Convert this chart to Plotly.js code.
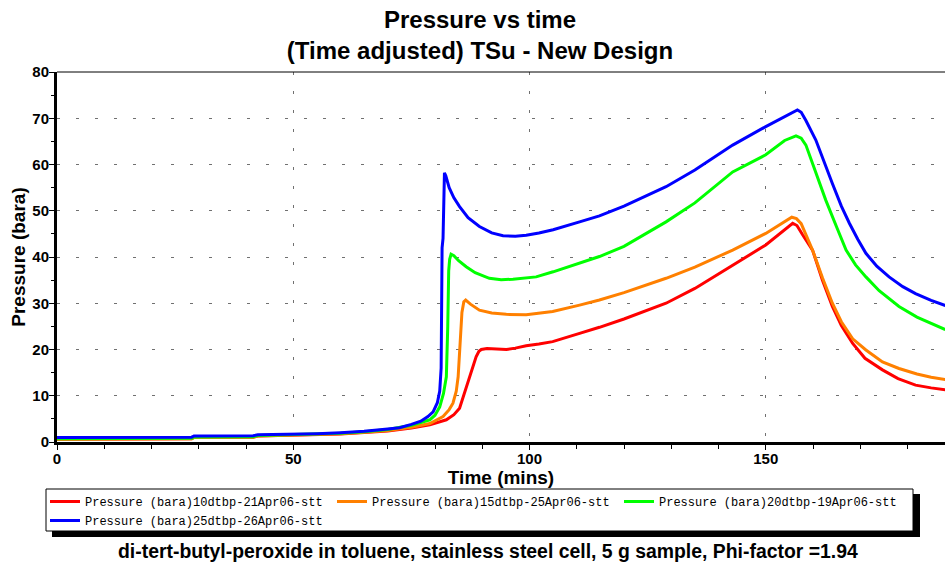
<!DOCTYPE html>
<html>
<head>
<meta charset="utf-8">
<script src="https://cdn.plot.ly/plotly-3.0.1.min.js"></script>
<style>html,body{margin:0;padding:0;background:#fff;}#chart{width:945px;height:563px;}</style>
</head>
<body>
<div id="chart"></div>
<script>
// ---- data (time in minutes, pressure in bara) ----
const seriesNames = [
  "Pressure (bara)10dtbp-21Apr06-stt",
  "Pressure (bara)15dtbp-25Apr06-stt",
  "Pressure (bara)20dtbp-19Apr06-stt",
  "Pressure (bara)25dtbp-26Apr06-stt"
];
const seriesColors = ["#ff0000", "#ff8000", "#00ff00", "#0000ff"];

const t10 = [0, 28.5, 29, 41.5, 42.5, 50, 60, 65, 70, 75, 78.9, 82.4, 84, 85.2, 86.2, 87.3, 88, 88.7, 89.3, 89.8, 91, 93, 95.1, 97, 99.3, 102, 104.9, 110.6, 114.8, 120, 128.9, 135, 143, 150, 155.7, 156.6, 157.8, 159.9, 162, 164.1, 166, 168.4, 171, 174.7, 178, 181.7, 185, 188];
const p10 = [0.6, 0.7, 1.0, 1.05, 1.3, 1.45, 1.75, 2.05, 2.4, 3.0, 3.7, 4.8, 5.9, 7.3, 10.5, 14.1, 16.5, 18.4, 19.6, 20.0, 20.2, 20.1, 20.0, 20.3, 20.8, 21.2, 21.7, 23.5, 24.8, 26.6, 30.0, 33.2, 38.3, 42.6, 47.3, 46.8, 44.8, 41.5, 35.0, 29.3, 25.2, 21.3, 18.1, 15.6, 13.7, 12.3, 11.7, 11.3];

const t15 = [0, 28.5, 29, 41.5, 42.5, 50, 60, 65, 70, 75, 78.9, 81.7, 83, 83.8, 84.5, 84.9, 85.3, 85.7, 86.1, 86.5, 87.5, 89.4, 92, 95.1, 99.3, 102, 104.9, 110.6, 114.8, 120, 128.9, 135, 143, 150, 155.5, 156.5, 157.5, 159.9, 162, 164.1, 166, 168.4, 171.2, 174.7, 178.2, 182, 185, 188];
const p15 = [0.6, 0.7, 1.0, 1.05, 1.3, 1.45, 1.8, 2.1, 2.5, 3.2, 4.0, 5.5, 7.0, 8.4, 11.0, 14.1, 22.0, 28.0, 30.3, 30.7, 29.8, 28.5, 27.9, 27.6, 27.5, 27.8, 28.2, 29.6, 30.7, 32.3, 35.4, 37.8, 41.5, 45.1, 48.6, 48.3, 47.2, 41.5, 35.5, 30.0, 26.0, 22.3, 19.9, 17.3, 15.9, 14.7, 14.0, 13.5];

const t20 = [0, 28.5, 29, 41.5, 42.5, 50, 60, 65, 70, 75, 78.9, 80, 81, 81.8, 82.4, 82.7, 82.9, 83.1, 83.4, 84, 85, 86.6, 88.5, 91.5, 94, 96.5, 99, 101.4, 105, 110.6, 114.8, 120, 128.9, 135, 143, 150, 154, 156.4, 157.5, 158.5, 160.5, 162.7, 165, 167, 169, 171.2, 174, 178.2, 182, 185, 188];
const p20 = [0.7, 0.8, 1.1, 1.15, 1.4, 1.55, 1.9, 2.2, 2.7, 3.6, 4.8, 5.8, 7.6, 10.5, 14.1, 25.0, 37.0, 39.5, 40.6, 40.3, 39.2, 37.9, 36.6, 35.4, 35.1, 35.2, 35.5, 35.7, 36.8, 38.6, 40.1, 42.3, 47.6, 51.7, 58.4, 62.1, 65.2, 66.2, 65.7, 64.2, 58.5, 52.3, 46.5, 41.5, 38.3, 35.7, 32.7, 29.3, 27.0, 25.6, 24.3];

const t25 = [0, 28.5, 29, 41.5, 42.5, 50, 55, 60, 65, 70, 72.5, 75, 77, 78.5, 79.6, 80.5, 81.0, 81.3, 81.5, 81.7, 82.0, 82.3, 83, 84, 85.2, 87, 89.4, 92, 94.4, 97, 99.3, 102, 105, 110.6, 114.8, 120, 128.9, 135, 143, 150, 155, 156.7, 157.5, 158.5, 160.6, 162.3, 164.1, 166, 167.7, 169.5, 171.2, 173.5, 176.1, 179, 181.7, 185, 188];
const p25 = [1.0, 1.05, 1.3, 1.35, 1.55, 1.65, 1.8, 2.0, 2.3, 2.8, 3.1, 3.8, 4.5, 5.5, 6.5, 8.5, 11.0, 16.0, 42.0, 44.0, 58.2, 57.5, 55.0, 52.8, 50.9, 48.5, 46.6, 45.2, 44.6, 44.5, 44.7, 45.2, 45.9, 47.6, 48.9, 51.0, 55.2, 58.8, 64.2, 68.2, 71.0, 71.8, 71.3, 69.5, 65.3, 60.5, 55.9, 51.0, 47.3, 43.8, 40.8, 38.0, 35.7, 33.6, 32.1, 30.6, 29.5];

const xTickVals = [0, 50, 100, 150];
const yTickVals = [0, 10, 20, 30, 40, 50, 60, 70, 80];

const chartTitle = "Pressure vs time<br>(Time adjusted) TSu - New Design";
const xTitle = "Time (mins)";
const yTitle = "Pressure (bara)";
const caption = "di-tert-butyl-peroxide in toluene, stainless steel cell, 5 g sample, Phi-factor =1.94";

// ---- figure ----
const W = 945, H = 563;
const M = {l: 57, r: 0, t: 72, b: 121};
const PW = W - M.l - M.r, PH = H - M.t - M.b;
const px = x => (x - M.l) / PW;          // pixel -> paper x
const py = y => (H - M.b - y) / PH;      // pixel -> paper y

const xs = [t10, t15, t20, t25];
const ys = [p10, p15, p20, p25];
const traces = xs.map((x, i) => ({
  type: "scatter", mode: "lines", x: x, y: ys[i], name: seriesNames[i],
  line: {color: seriesColors[i], width: 3}
}));

const baseFont = {family: "Liberation Sans, Arial, sans-serif", color: "#000"};
const layout = {
  width: W, height: H,
  margin: M,
  paper_bgcolor: "#fff", plot_bgcolor: "#fff",
  font: baseFont,
  title: {
    text: chartTitle,
    font: {family: baseFont.family, size: 24, weight: "bold", color: "#000"},
    x: 480 / W, xref: "container", xanchor: "center",
    y: 1 - 28 / H, yref: "container", yanchor: "top"
  },
  xaxis: {
    range: [0, PW / 4.725], tickvals: xTickVals, ticktext: xTickVals.map(String),
    ticks: "outside", ticklen: 5, tickwidth: 1, tickcolor: "#000",
    ticklabelstandoff: -4,
    minor: {dtick: 10, ticks: "outside", ticklen: 4, tickcolor: "#000", showgrid: false},
    showline: true, linewidth: 3, linecolor: "#000", mirror: false,
    showgrid: true, gridcolor: "#707070", gridwidth: 1, griddash: "3px,16px",
    zeroline: false, automargin: false,
    tickfont: {family: baseFont.family, size: 15, weight: "bold", color: "#000"},
    title: {text: xTitle, standoff: 5,
      font: {family: baseFont.family, size: 19, weight: "bold", color: "#000"}}
  },
  yaxis: {
    range: [0, 80], tickvals: yTickVals, ticktext: yTickVals.map(String),
    ticks: "outside", ticklen: 5, tickwidth: 1, tickcolor: "#000",
    ticklabelstandoff: -3,
    minor: {dtick: 5, ticks: "outside", ticklen: 3, tickcolor: "#000", showgrid: false},
    showline: true, linewidth: 3, linecolor: "#000", mirror: false,
    showgrid: true, gridcolor: "#707070", gridwidth: 1, griddash: "3px,16px",
    zeroline: false, automargin: false,
    tickfont: {family: baseFont.family, size: 15, weight: "bold", color: "#000"},
    title: {text: yTitle, standoff: 2,
      font: {family: baseFont.family, size: 19, weight: "bold", color: "#000"}}
  },
  showlegend: true,
  legend: {
    orientation: "h", x: px(45), xanchor: "left", y: py(487), yanchor: "top",
    bgcolor: "rgba(0,0,0,0)", borderwidth: 0,
    entrywidth: 242, entrywidthmode: "pixels",
    font: {family: "Liberation Mono, DejaVu Sans Mono, monospace", size: 12, color: "#000"},
    traceorder: "normal"
  },
  shapes: [
    // top frame line
    {type: "line", xref: "paper", yref: "paper", x0: 0, x1: 1, y0: 1, y1: 1,
     line: {color: "#000", width: 1}, layer: "above"},
    // legend shadow
    {type: "rect", xref: "paper", yref: "paper", x0: px(52), x1: px(920), y0: py(494), y1: py(537),
     fillcolor: "#000", line: {width: 0}, layer: "above"},
    // legend box
    {type: "rect", xref: "paper", yref: "paper", x0: px(46), x1: px(913), y0: py(489), y1: py(531),
     fillcolor: "#fff", line: {color: "#000", width: 1}, layer: "above"}
  ],
  annotations: [
    {text: caption, xref: "paper", yref: "paper", x: px(488), y: py(551),
     xanchor: "center", yanchor: "middle", showarrow: false,
     font: {family: baseFont.family, size: 19.4, weight: "bold", color: "#000"}}
  ]
};

Plotly.newPlot("chart", traces, layout, {displayModeBar: false, staticPlot: true});
</script>
</body>
</html>
